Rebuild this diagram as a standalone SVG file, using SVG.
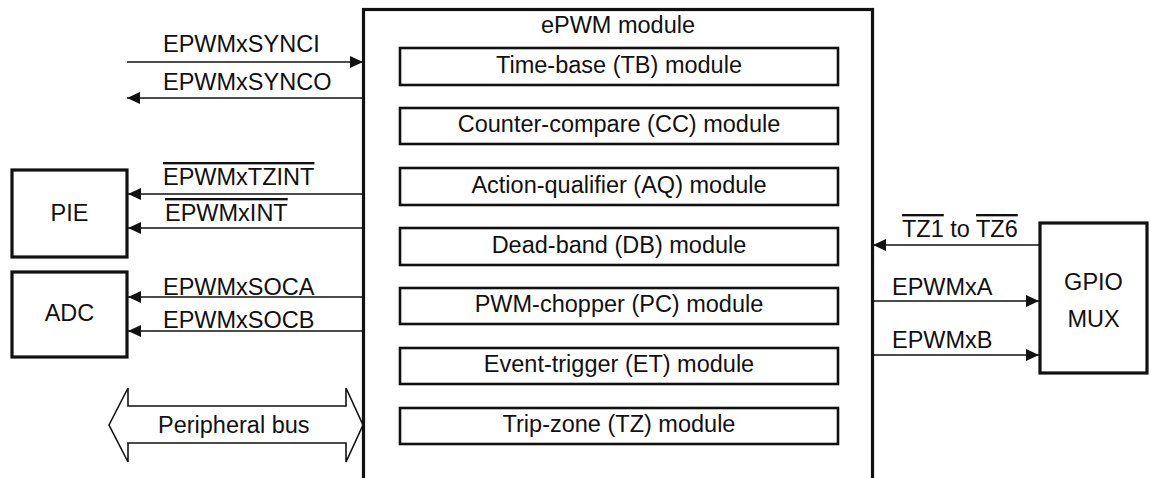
<svg xmlns="http://www.w3.org/2000/svg" width="1151" height="478" viewBox="0 0 1151 478">
<style>
  text { font-family: "Liberation Sans", Arial, sans-serif; font-size: 23.5px; fill: #111; }
  .c { text-anchor: middle; }
  .outer { fill: #fff; stroke: #111; stroke-width: 3.2; }
  .inner { fill: #fff; stroke: #111; stroke-width: 2.6; }
  .wire { fill: none; stroke: #111; stroke-width: 1.6; }
  .ol { text-decoration: overline; }
</style>
<defs>
  <marker id="ah" markerUnits="userSpaceOnUse" markerWidth="14" markerHeight="12" refX="13" refY="6" orient="auto">
    <path d="M0,0 L13,6 L0,12 Z" fill="#111"/>
  </marker>
</defs>
<rect width="1151" height="478" fill="#fff"/>

<g id="epwm">
  <rect class="outer" x="363.5" y="9.5" width="509" height="490"/>
  <text class="c" x="618" y="33">ePWM module</text>
</g>
<g id="tb"><rect class="inner" x="400" y="48" width="438" height="37"/><text class="c" x="619" y="73">Time-base (TB) module</text></g>
<g id="cc"><rect class="inner" x="400" y="108" width="438" height="36"/><text class="c" x="619" y="132">Counter-compare (CC) module</text></g>
<g id="aq"><rect class="inner" x="400" y="168" width="438" height="37"/><text class="c" x="619" y="193">Action-qualifier (AQ) module</text></g>
<g id="db"><rect class="inner" x="400" y="228" width="438" height="37"/><text class="c" x="619" y="253">Dead-band (DB) module</text></g>
<g id="pc"><rect class="inner" x="400" y="288" width="438" height="36"/><text class="c" x="619" y="312">PWM-chopper (PC) module</text></g>
<g id="et"><rect class="inner" x="400" y="348" width="438" height="36"/><text class="c" x="619" y="372">Event-trigger (ET) module</text></g>
<g id="tz"><rect class="inner" x="400" y="408" width="438" height="36"/><text class="c" x="619" y="432">Trip-zone (TZ) module</text></g>

<g id="pie"><rect class="outer" x="12" y="170" width="115" height="87"/><text class="c" x="69.5" y="221">PIE</text></g>
<g id="adc"><rect class="outer" x="12" y="272" width="115" height="85"/><text class="c" x="69.5" y="321">ADC</text></g>
<g id="gpio"><rect class="outer" x="1040" y="223" width="107" height="150"/><text class="c" x="1093.5" y="290">GPIO</text><text class="c" x="1093.5" y="327">MUX</text></g>

<g id="connectors">
  <line class="wire" x1="127" y1="62" x2="363" y2="62" marker-end="url(#ah)"/>
  <line class="wire" x1="363" y1="98" x2="127" y2="98" marker-end="url(#ah)"/>
  <line class="wire" x1="363" y1="194" x2="128" y2="194" marker-end="url(#ah)"/>
  <line class="wire" x1="363" y1="228" x2="128" y2="228" marker-end="url(#ah)"/>
  <line class="wire" x1="363" y1="297" x2="128" y2="297" marker-end="url(#ah)"/>
  <line class="wire" x1="363" y1="331" x2="128" y2="331" marker-end="url(#ah)"/>
  <line class="wire" x1="1040" y1="245" x2="873" y2="245" marker-end="url(#ah)"/>
  <line class="wire" x1="873" y1="301" x2="1039" y2="301" marker-end="url(#ah)"/>
  <line class="wire" x1="873" y1="355" x2="1039" y2="355" marker-end="url(#ah)"/>
  <path class="wire" d="M109,425 L128,388 L128,406 L346,406 L346,388 L363,425 L346,462 L346,443 L128,443 L128,462 Z" fill="#fff"/>
</g>

<g id="labels">
  <text x="163" y="52">EPWMxSYNCI</text>
  <text x="163" y="90">EPWMxSYNCO</text>
  <text x="163" y="185" class="ol">EPWMxTZINT</text>
  <text x="165" y="221" class="ol">EPWMxINT</text>
  <text x="163" y="295">EPWMxSOCA</text>
  <text x="163" y="328">EPWMxSOCB</text>
  <text x="902" y="237"><tspan class="ol">TZ1</tspan> to <tspan class="ol">TZ6</tspan></text>
  <text x="892" y="295">EPWMxA</text>
  <text x="892" y="348">EPWMxB</text>
  <text x="158" y="433">Peripheral bus</text>
</g>
</svg>
